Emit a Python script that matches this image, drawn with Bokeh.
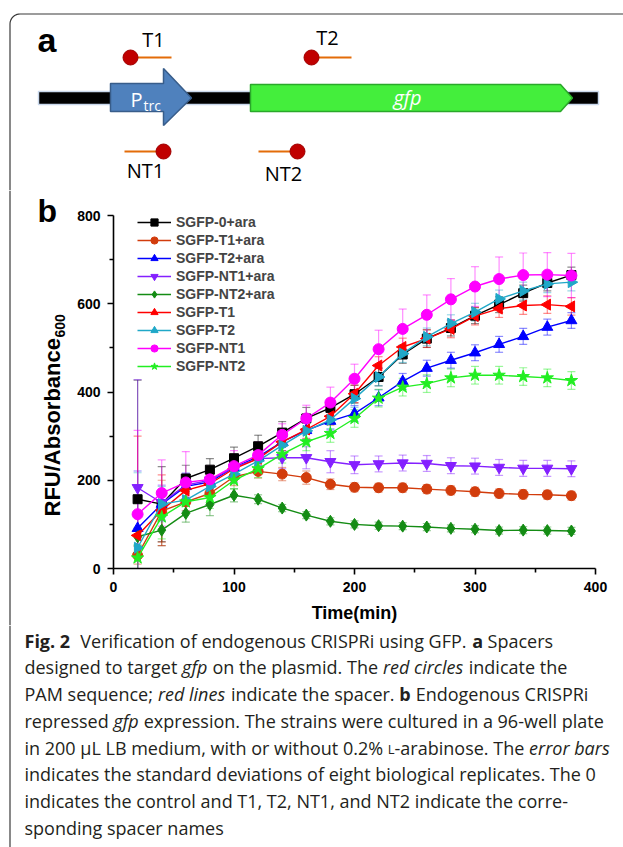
import numpy as np
from bokeh.plotting import figure
from bokeh.models import (Range1d, FixedTicker, Legend, LegendItem, Whisker, TeeHead,
                          ColumnDataSource)
from bokeh.layouts import column, row
from bokeh.core.properties import value
from bokeh.embed import file_html
from bokeh.resources import INLINE

# ---------------- data (panel b) ----------------
time_min = [20, 40, 60, 80, 100, 120, 140, 160, 180, 200, 220, 240, 260, 280, 300, 320, 340, 360, 380]

series_labels = ["SGFP-0+ara", "SGFP-T1+ara", "SGFP-T2+ara", "SGFP-NT1+ara", "SGFP-NT2+ara",
                 "SGFP-T1", "SGFP-T2", "SGFP-NT1", "SGFP-NT2"]

sgfp_0_ara = [157, 146, 204, 224, 250, 277, 308, 340, 364, 395, 434, 485, 521, 545, 573, 598, 624, 647, 665]
sgfp_t1_ara = [30, 130, 151, 170, 208, 220, 214, 206, 191, 184, 183, 183, 180, 177, 174, 170, 168, 167, 165]
sgfp_t2_ara = [91, 146, 186, 196, 229, 253, 287, 313, 334, 351, 387, 424, 454, 472, 489, 508, 526, 547, 562]
sgfp_nt1_ara = [183, 149, 189, 200, 229, 249, 251, 251, 242, 235, 237, 239, 238, 233, 232, 229, 227, 227, 226]
sgfp_nt2_ara = [72, 87, 125, 145, 166, 157, 137, 121, 107, 100, 97, 96, 94, 91, 89, 86, 87, 86, 85]
sgfp_t1 = [75, 132, 177, 192, 226, 249, 287, 315, 345, 396, 460, 502, 521, 543, 572, 589, 596, 598, 594]
sgfp_t2 = [47, 146, 155, 186, 214, 244, 279, 312, 337, 385, 434, 487, 525, 555, 581, 611, 629, 645, 649]
sgfp_nt1 = [123, 171, 195, 202, 232, 257, 303, 340, 376, 430, 497, 543, 575, 610, 639, 656, 665, 666, 664]
sgfp_nt2 = [24, 117, 151, 161, 200, 226, 259, 287, 306, 340, 386, 411, 419, 432, 438, 438, 435, 432, 426]

err_0_ara = [270, 85, 30, 25, 25, 25, 25, 25, 20, 20, 20, 20, 20, 18, 18, 18, 18, 18, 18]
err_t1_ara = [20, 70, 20, 20, 20, 15, 15, 15, 12, 10, 10, 10, 10, 10, 10, 10, 10, 10, 10]
err_t2_ara = [130, 30, 30, 20, 20, 20, 20, 20, 20, 18, 18, 18, 18, 18, 18, 18, 18, 18, 18]
err_nt1_ara = [245, 40, 25, 20, 20, 20, 25, 25, 25, 20, 18, 18, 18, 18, 18, 18, 18, 18, 18]
err_nt2_ara = [20, 35, 20, 25, 15, 10, 8, 8, 8, 8, 8, 8, 8, 8, 8, 8, 8, 8, 8]
err_t1 = [225, 80, 30, 20, 20, 20, 20, 20, 20, 20, 20, 20, 20, 20, 20, 20, 20, 20, 20]
err_t2 = [170, 40, 25, 20, 20, 20, 20, 20, 20, 20, 20, 20, 20, 20, 20, 20, 20, 20, 20]
err_nt1 = [190, 75, 70, 30, 35, 30, 25, 30, 35, 33, 43, 45, 45, 47, 45, 50, 50, 50, 50]
err_nt2 = [30, 50, 25, 25, 20, 20, 20, 20, 20, 20, 20, 20, 20, 20, 20, 20, 20, 20, 20]

x_ticks = [0, 100, 200, 300, 400]
y_ticks = [0, 200, 400, 600, 800]

series_values = [sgfp_0_ara, sgfp_t1_ara, sgfp_t2_ara, sgfp_nt1_ara, sgfp_nt2_ara,
                 sgfp_t1, sgfp_t2, sgfp_nt1, sgfp_nt2]
series_errors = [err_0_ara, err_t1_ara, err_t2_ara, err_nt1_ara, err_nt2_ara,
                 err_t1, err_t2, err_nt1, err_nt2]

# ---------------- styles ----------------
colors = ["#000000", "#d23c0c", "#0000ff", "#8420ff", "#148c14",
          "#ff0000", "#20a8c8", "#ff00ff", "#22ee22"]
markers = ["square", "circle", "triangle", "inverted_triangle", "diamond",
           "triangle", "triangle", "circle", "star"]
angles = [0, 0, 0, 0, 0, np.pi / 2, -np.pi / 2, 0, 0]
sizes = [9, 10, 11, 11, 12, 11, 11, 11, 13]

ARIAL = value("Liberation Sans")
OPEN = value("Open Sans")
W = 623
BASE_K = 0.32   # baseline correction (fraction of font size)
ROW_TOP = 190
ROW_H = 625 - ROW_TOP


def canvas(w, h, x0, y0):
    p = figure(width=w, height=h, x_range=Range1d(x0, x0 + w), y_range=Range1d(y0 + h, y0),
               x_axis_location=None, y_axis_location=None, output_backend="svg",
               toolbar_location=None, min_border=0, title=None)
    p.outline_line_color = None
    p.grid.visible = False
    p.frame_align = False
    return p


FRAME_X = 9.5
FRAME_Y = 13.5
FRAME_COLOR = "#3a3a3a"

# ---------------- panel a ----------------
pa = canvas(W, ROW_TOP, 0, 0)
th = np.linspace(np.pi, 1.5 * np.pi, 12)
r = 10
fx = [FRAME_X] + list(FRAME_X + r + r * np.cos(th)) + [640]
fy = [ROW_TOP + 10] + list(FRAME_Y + r + r * np.sin(th)) + [FRAME_Y]
pa.line(fx, fy, line_color=FRAME_COLOR, line_width=1.2)

pa.text(x=[37], y=[50 - BASE_K * 34], text=["a"], text_font=ARIAL, text_font_style="bold",
        text_font_size="34px", text_baseline="alphabetic")

# DNA backbone
pa.quad(left=[38], right=[598], top=[91], bottom=[104], fill_color="black",
        line_color="#c9d8ec", line_width=1.5)
# promoter arrow
pa.patch([110, 163, 163, 191, 163, 163, 110], [83, 83, 68, 97.5, 125, 111, 111],
         fill_color="#4f81bd", line_color="#385d8a", line_width=1.5)
pa.text(x=[130], y=[105 - BASE_K * 20], text=["P"], text_font=OPEN, text_font_size="20px",
        text_color="white", text_baseline="alphabetic")
pa.text(x=[143], y=[109.5 - BASE_K * 14], text=["trc"], text_font=OPEN, text_font_size="14px",
        text_color="white", text_baseline="alphabetic")
# gfp arrow
pa.patch([250, 560, 572, 560, 250], [84, 84, 97.5, 111, 111],
         fill_color="#44ee3c", line_color="#2aa82a", line_width=1.5)
pa.text(x=[407], y=[97], text=["gfp"], text_font=OPEN, text_font_size="20px",
        text_font_style="italic", text_color="white", text_align="center",
        text_baseline="middle")

# spacers
sp_line_x0 = [130, 311, 124, 258]
sp_line_x1 = [171, 351, 163, 297]
sp_y = [57, 57, 151, 151]
pa.segment(x0=sp_line_x0, y0=sp_y, x1=sp_line_x1, y1=sp_y, line_color="#e36c09", line_width=2.2)
pa.scatter(x=[130, 311, 163, 297], y=sp_y, size=15, marker="circle",
           fill_color="#c00000", line_color="#a00000")
pa.text(x=[153, 327, 145, 283], y=[39, 37, 170, 173], text=["T1", "T2", "NT1", "NT2"],
        text_font=OPEN, text_font_size="20px", text_align="center", text_baseline="middle")

# ---------------- left strip for panel b ----------------
pl = canvas(72, ROW_H, 0, ROW_TOP)
pl.line([FRAME_X, FRAME_X], [ROW_TOP, 625], line_color=FRAME_COLOR, line_width=1.2)
pl.text(x=[37], y=[221 - BASE_K * 32], text=["b"], text_font=ARIAL, text_font_style="bold",
        text_font_size="32px", text_baseline="alphabetic")
pl.text(x=[59 - BASE_K * 22], y=[516], text=["RFU/Absorbance"], angle=np.pi / 2,
        text_font=ARIAL, text_font_style="bold", text_font_size="22px",
        text_baseline="alphabetic")
pl.text(x=[63.5 - BASE_K * 14], y=[337], text=["600"], angle=np.pi / 2, text_font=ARIAL,
        text_font_style="bold", text_font_size="14px", text_baseline="alphabetic")

# ---------------- chart ----------------
pb = figure(width=551, height=ROW_H, x_range=Range1d(0, 400), y_range=Range1d(0, 800),
            output_backend="svg", toolbar_location=None, title=None,
            min_border_left=41, min_border_right=28, min_border_top=215 - ROW_TOP,
            min_border_bottom=57)
pb.frame_align = False
pb.outline_line_color = None
pb.grid.visible = False
pb.xaxis.ticker = FixedTicker(ticks=x_ticks, minor_ticks=[50, 150, 250, 350])
pb.yaxis.ticker = FixedTicker(ticks=y_ticks, minor_ticks=[100, 300, 500, 700])
for ax in (pb.xaxis, pb.yaxis):
    ax.axis_line_width = 1.6
    ax.major_tick_line_width = 1.6
    ax.minor_tick_line_width = 1.6
    ax.major_tick_in = 0
    ax.major_tick_out = 6
    ax.minor_tick_in = 0
    ax.minor_tick_out = 4
    ax.major_label_text_font = "Liberation Sans"
    ax.major_label_text_font_style = "bold"
    ax.major_label_text_font_size = "14px"
    ax.major_label_text_color = "black"
    ax.major_label_standoff = 7
pb.xaxis.axis_label = "Time(min)"
pb.xaxis.axis_label_text_font = "Liberation Sans"
pb.xaxis.axis_label_text_font_style = "bold"
pb.xaxis.axis_label_text_font_size = "18px"
pb.xaxis.axis_label_text_color = "black"
pb.xaxis.axis_label_standoff = 8

items = []
for lab, vals, errs, col, mk, ang, sz in zip(series_labels, series_values, series_errors,
                                            colors, markers, angles, sizes):
    lo = [max(v - e, 0) for v, e in zip(vals, errs)]
    hi = [v + e for v, e in zip(vals, errs)]
    src = ColumnDataSource(dict(t=time_min, v=vals, lo=lo, hi=hi))
    wk = Whisker(source=src, base="t", upper="hi", lower="lo", line_color=col,
                 line_alpha=0.45, line_width=1.2,
                 upper_head=TeeHead(size=8, line_color=col, line_alpha=0.45, line_width=1.2),
                 lower_head=TeeHead(size=8, line_color=col, line_alpha=0.45, line_width=1.2))
    pb.add_layout(wk)
    lr = pb.line("t", "v", source=src, line_color=col, line_width=1.4)
    sr = pb.scatter("t", "v", source=src, marker=mk, size=sz, angle=ang,
                    fill_color=col, line_color=col)
    items.append(LegendItem(label=lab, renderers=[lr, sr]))

legend = Legend(items=items, location=(24, 193), padding=0, margin=0, spacing=0,
                glyph_width=34, glyph_height=18, label_height=18, label_standoff=5,
                border_line_color=None, background_fill_alpha=0,
                label_text_font="Liberation Sans", label_text_font_style="bold",
                label_text_font_size="14px")
pb.add_layout(legend)

# ---------------- caption ----------------
pc = canvas(W, 222, 0, 625)
pc.line([FRAME_X, FRAME_X], [625, 850], line_color=FRAME_COLOR, line_width=1.2)

# approximate Open Sans advance widths (em) used to lay out mixed-style segments
_w = dict(zip("abcdefghijklmnopqrstuvwxyz",
              [.556, .613, .476, .613, .561, .339, .548, .614, .253, .253, .525, .253, .930,
               .614, .604, .613, .613, .408, .477, .353, .614, .501, .778, .524, .502, .477]))
_w.update({"A": .633, "B": .648, "C": .631, "D": .729, "E": .556, "F": .516, "G": .728,
           "H": .738, "I": .303, "L": .519, "M": .903, "N": .759, "O": .779, "P": .611,
           "R": .637, "S": .536, "T": .549, " ": .26, ".": .266, ",": .244, ";": .266,
           "-": .322, "%": .828, "\u00b5": .614})
for d in "0123456789":
    _w[d] = .572


def text_width(s, size, style):
    f = {"bold": 1.07, "italic": 0.95}.get(style, 1.0)
    return sum(_w.get(c, .55) for c in s) * size * f


caption_lines = [
    [("Fig. 2", "bold"), ("  ", "normal"), ("Verification of endogenous CRISPRi using GFP. ", "normal"),
     ("a", "bold"), (" Spacers", "normal")],
    [("designed to target ", "normal"), ("gfp", "italic"),
     (" on the plasmid. The ", "normal"), ("red circles", "italic"),
     (" indicate the", "normal")],
    [("PAM sequence; ", "normal"), ("red lines", "italic"),
     (" indicate the spacer. ", "normal"), ("b", "bold"),
     (" Endogenous CRISPRi", "normal")],
    [("repressed ", "normal"), ("gfp", "italic"),
     (" expression. The strains were cultured in a 96-well plate", "normal")],
    [("in 200 \u00b5L LB medium, with or without 0.2% ", "normal"), ("L", "smallcap"),
     ("-arabinose. The ", "normal"), ("error bars", "italic")],
    [("indicates the standard deviations of eight biological replicates. The 0", "normal")],
    [("indicates the control and T1, T2, NT1, and NT2 indicate the corre-", "normal")],
    [("sponding spacer names", "normal")],
]
CAP_PX = 18.0
CAP_X0 = 24
base0, pitch = 646, 26.7
groups = {"normal": ([], [], []), "bold": ([], [], []), "italic": ([], [], []),
          "smallcap": ([], [], [])}
for i, segs in enumerate(caption_lines):
    x = CAP_X0
    for txt, sty in segs:
        size = CAP_PX * 0.72 if sty == "smallcap" else CAP_PX
        g = groups[sty]
        if txt.strip():
            lead = len(txt) - len(txt.lstrip(" "))
            g[0].append(x + text_width(" " * lead, CAP_PX, "normal"))
            g[1].append(base0 + i * pitch - BASE_K * size)
            g[2].append(txt.strip(" "))
        x += text_width(txt, size, sty)
for sty, (xs, ys, ts) in groups.items():
    if not xs:
        continue
    fs = "%.1fpx" % (CAP_PX * 0.72 if sty == "smallcap" else CAP_PX)
    style = "normal" if sty == "smallcap" else sty
    pc.text(x=xs, y=ys, text=ts, text_font=OPEN, text_font_size=fs, text_font_style=style,
            text_color="#231f20", text_baseline="alphabetic")

layout = column(pa, row(pl, pb), pc)
open("out.html", "w").write(file_html(layout, INLINE))
